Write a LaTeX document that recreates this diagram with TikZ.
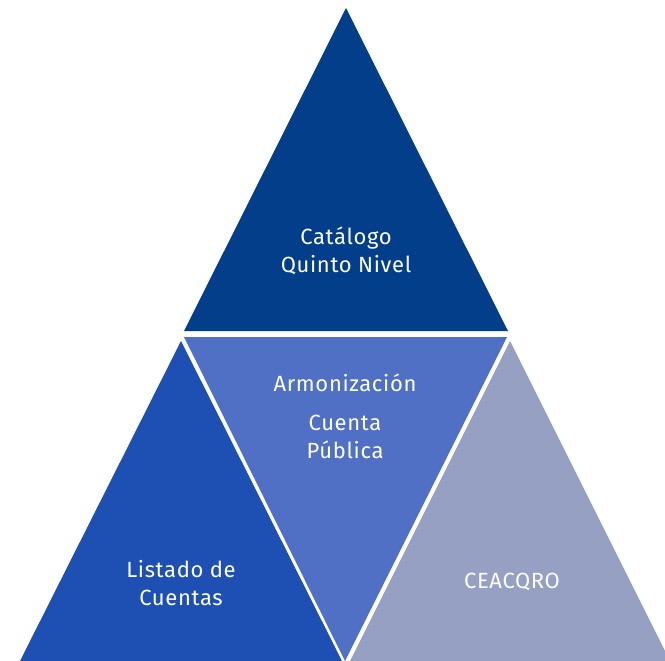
\documentclass[tikz,border=0pt]{standalone}
\usepackage{fontspec}
\setmainfont{Fira Sans}[LetterSpace=3]
\usepackage{xcolor}
\definecolor{topblue}{RGB}{3,62,138}
\definecolor{midblue}{RGB}{80,112,197}
\definecolor{leftblue}{RGB}{30,80,180}
\definecolor{rightblue}{RGB}{150,160,195}
\tikzset{label/.style={text=white,font=\fontsize{22}{28}\selectfont,align=center,inner sep=0pt}}
\begin{document}
\begin{tikzpicture}[x=1pt,y=-1pt]
        \useasboundingbox (0,0) rectangle (665,661);
        \clip (0,0) rectangle (665,661);
        % top
        \fill[topblue] (346,8) -- (508,331) -- (184,331) -- cycle;
        % middle, upside down
        \fill[midblue] (184,337) -- (507,337) -- (345,661) -- cycle;
        % bottom left and right
        \fill[leftblue] (181,341) -- (342,661) -- (20,661) -- cycle;
        \fill[rightblue] (510,341) -- (670,661) -- (350,661) -- cycle;
        \node[label] (catalogo) at (346,251) {Catálogo\\Quinto Nivel};
        \node[label] (armon) at (345,383) {Armonización};
        \node[label] (cuenta) at (345,437) {Cuenta\\Pública};
        \node[label] (listado) at (181,583) {Listado de\\Cuentas};
        \node[label] (ceacqro) at (512,582) {CEACQRO};
\end{tikzpicture}
\end{document}
